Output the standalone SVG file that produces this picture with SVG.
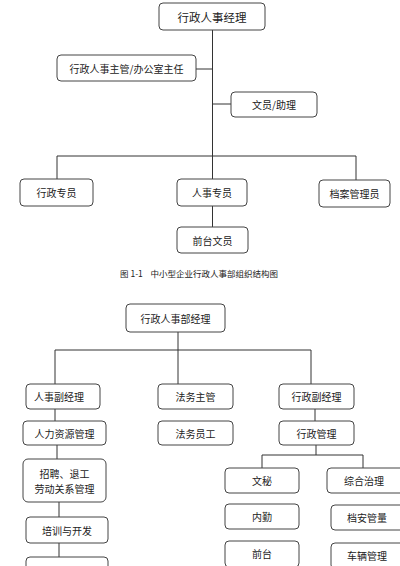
<svg xmlns="http://www.w3.org/2000/svg" width="400" height="566" viewBox="0 0 400 566">
<style>
.b{fill:#fff;stroke:#444;stroke-width:1}
.t{font-family:"Noto Sans CJK SC","Liberation Sans",sans-serif;font-size:10px;fill:#222;text-anchor:middle;dominant-baseline:central}
.c{fill:none;stroke:#333;stroke-width:1}
</style>
<rect width="400" height="566" fill="#fff"/>
<g id="connectors">
<path class="c" d="M212.5 30V156M196 69H212.5M212.5 104H231M57 181V156H356V180M212.5 156V179M212.5 206V227"/>
<path class="c" d="M178 332V350M55 350H311M55 350V384M178 350V384M311 350V384M55 409V421M315 409V421M57 445V459M59 502V517M59 543V557M316 445V455M262 455H363M262 455V468M363 455V468"/>
</g>
<g id="n1"><rect class="b" x="159" y="3" width="106" height="27" rx="4"/><text class="t" x="212" y="16.5" style="font-size:11.5px">行政人事经理</text></g>
<g id="n2"><rect class="b" x="57" y="55" width="139" height="26" rx="4"/><text class="t" x="126.5" y="68">行政人事主管/办公室主任</text></g>
<g id="n3"><rect class="b" x="231" y="92" width="86" height="25" rx="4"/><text class="t" x="274" y="104.5">文员/助理</text></g>
<g id="n4"><rect class="b" x="20" y="179" width="73" height="27" rx="4"/><text class="t" x="56.5" y="192.5">行政专员</text></g>
<g id="n5"><rect class="b" x="177" y="179" width="70" height="27" rx="4"/><text class="t" x="212" y="192.5">人事专员</text></g>
<g id="n6"><rect class="b" x="319" y="180" width="71" height="27" rx="4"/><text class="t" x="354.5" y="193">档案管理员</text></g>
<g id="n7"><rect class="b" x="177" y="227" width="71" height="26" rx="4"/><text class="t" x="212.5" y="240">前台文员</text></g>
<text id="caption" class="t" x="199" y="273" xml:space="preserve" style="font-size:8.5px;white-space:pre">图 1-1    中小型企业行政人事部组织结构图</text>
<g id="m1"><rect class="b" x="126" y="304" width="99" height="28" rx="4"/><text class="t" x="175.5" y="318">行政人事部经理</text></g>
<g id="m2"><rect class="b" x="26" y="384" width="74" height="25" rx="4"/><text class="t" x="59" y="396.5">人事副经理</text></g>
<g id="m3"><rect class="b" x="158" y="384" width="75" height="25" rx="4"/><text class="t" x="195.5" y="396.5">法务主管</text></g>
<g id="m4"><rect class="b" x="279" y="384" width="75" height="25" rx="4"/><text class="t" x="316.5" y="396.5">行政副经理</text></g>
<g id="m5"><rect class="b" x="23" y="421" width="83" height="24" rx="4"/><text class="t" x="64.5" y="433">人力资源管理</text></g>
<g id="m6"><rect class="b" x="158" y="421" width="75" height="24" rx="4"/><text class="t" x="195.5" y="433">法务员工</text></g>
<g id="m7"><rect class="b" x="279" y="421" width="75" height="24" rx="4"/><text class="t" x="316.5" y="433">行政管理</text></g>
<g id="m8"><rect class="b" x="23" y="459" width="83" height="43" rx="5"/><text class="t" x="64.5" y="473">招聘、退工</text><text class="t" x="64.5" y="488">劳动关系管理</text></g>
<g id="m9"><rect class="b" x="26" y="517" width="82" height="26" rx="4"/><text class="t" x="67" y="530">培训与开发</text></g>
<g id="m10"><rect class="b" x="26" y="557" width="82" height="26" rx="4"/></g>
<g id="m11"><rect class="b" x="225" y="468" width="74" height="25" rx="4"/><text class="t" x="262" y="480.5">文秘</text></g>
<g id="m12"><rect class="b" x="327" y="468" width="80" height="25" rx="4"/><text class="t" x="364" y="480.5">综合治理</text></g>
<g id="m13"><rect class="b" x="225" y="504" width="74" height="25" rx="4"/><text class="t" x="262" y="516.5">内勤</text></g>
<g id="m14"><rect class="b" x="331" y="505" width="76" height="25" rx="4"/><text class="t" x="367" y="517.5">档安管量</text></g>
<g id="m15"><rect class="b" x="225" y="541" width="74" height="26" rx="4"/><text class="t" x="262" y="553">前台</text></g>
<g id="m16"><rect class="b" x="331" y="543" width="76" height="26" rx="4"/><text class="t" x="367" y="555">车辆管理</text></g>
</svg>
